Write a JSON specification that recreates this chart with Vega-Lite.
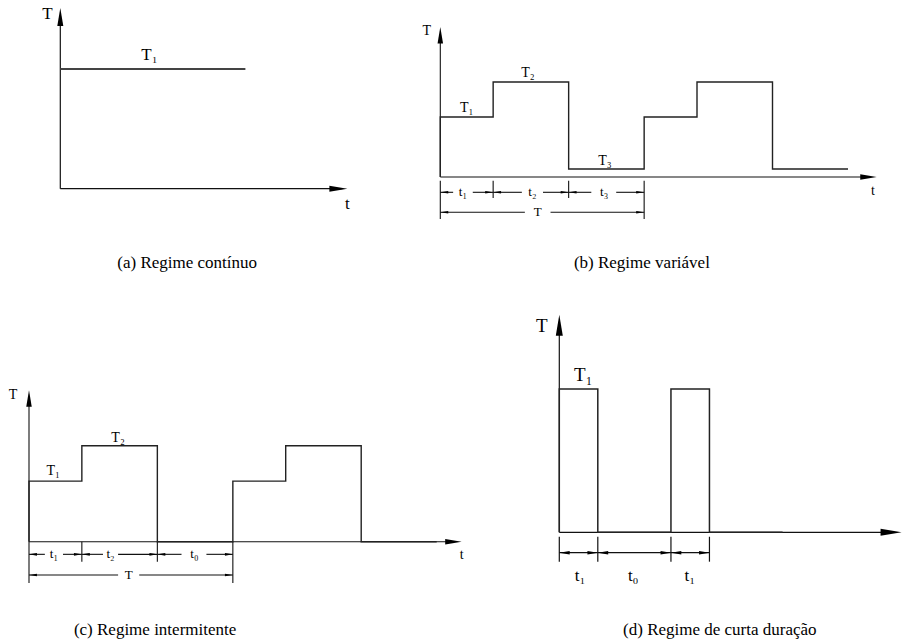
{
"$schema": "https://vega.github.io/schema/vega-lite/v6.json",
"padding": 0,
"background": "white",
"columns": 2,
"spacing": 0,
"bounds": "flush",
"align": "each",
"config": {"view": {"stroke": null}, "font": "'Liberation Serif', 'DejaVu Serif', serif", "text": {"font": "'Liberation Serif', 'DejaVu Serif', serif"}},
"datasets": {
"a_rules": [{"t":0,"T":0,"t2":9.4,"T2":0},{"t":0,"T":0,"t2":0,"T2":1.42}],
"a_sig": [{"i":0,"t":0,"T":1},{"i":1,"t":6.17,"T":1}],
"a_tips": [{"t":9.57,"T":0,"dir":"right"},{"t":0,"T":1.51,"dir":"up"}],
"a_lab": [{"t":-0.43,"T":1.459,"label":"T"},{"t":2.97,"T":1.113,"label":"T₁"},{"t":9.57,"T":-0.128,"label":"t"}],
"a_cap": [{"t":4.23,"T":-0.62,"caption":"(a) Regime contínuo"}],
"b_rules": [
{"t":0,"T":0,"t2":5.6,"T2":0},{"t":0,"T":0,"t2":0,"T2":14.3},
{"t":0,"T":-0.37,"t2":0,"T2":-4.2},{"t":0.7,"T":-0.37,"t2":0.7,"T2":-2.1},{"t":1.7,"T":-0.37,"t2":1.7,"T2":-2.1},{"t":2.7,"T":-0.37,"t2":2.7,"T2":-4.2},
{"t":0,"T":-1.53,"t2":0.17,"T2":-1.53},{"t":0.43,"T":-1.53,"t2":0.7,"T2":-1.53},{"t":0.7,"T":-1.53,"t2":1.08,"T2":-1.53},{"t":1.36,"T":-1.53,"t2":1.7,"T2":-1.53},{"t":1.7,"T":-1.53,"t2":2.0,"T2":-1.53},{"t":2.33,"T":-1.53,"t2":2.7,"T2":-1.53},
{"t":0,"T":-3.53,"t2":1.12,"T2":-3.53},{"t":1.46,"T":-3.53,"t2":2.7,"T2":-3.53}],
"b_sig": [{"i":0,"t":0,"T":0},{"i":1,"t":0,"T":6},{"i":2,"t":0.7,"T":9.5},{"i":3,"t":1.7,"T":0.8},{"i":4,"t":2.7,"T":6},{"i":5,"t":3.4,"T":9.5},{"i":6,"t":4.4,"T":0.8},{"i":7,"t":5.4,"T":0.8}],
"b_tips": [{"t":5.78,"T":0,"dir":"right"},{"t":0,"T":15,"dir":"up"}],
"b_darr": [{"t":0,"T":-1.53,"dir":"left"},{"t":0.7,"T":-1.53,"dir":"right"},{"t":0.7,"T":-1.53,"dir":"left"},{"t":1.7,"T":-1.53,"dir":"right"},{"t":1.7,"T":-1.53,"dir":"left"},{"t":2.7,"T":-1.53,"dir":"right"},{"t":0,"T":-3.53,"dir":"left"},{"t":2.7,"T":-3.53,"dir":"right"}],
"b_lab": [{"t":-0.18,"T":14.6,"label":"T"},{"t":0.35,"T":6.9,"label":"T₁"},{"t":1.16,"T":10.37,"label":"T₂"},{"t":2.18,"T":1.6,"label":"T₃"},{"t":5.73,"T":-1.4,"label":"t"}],
"b_dlab": [{"t":0.30,"T":-1.53,"label":"t₁"},{"t":1.22,"T":-1.53,"label":"t₂"},{"t":2.17,"T":-1.53,"label":"t₃"},{"t":1.29,"T":-3.53,"label":"T"}],
"b_cap": [{"t":2.67,"T":-8.6,"caption":"(b) Regime variável"}],
"c_rules": [
{"t":0,"T":0,"t2":5.55,"T2":0},{"t":0,"T":0,"t2":0,"T2":14.3},
{"t":0,"T":0,"t2":0,"T2":-4.09},{"t":0.7,"T":0,"t2":0.7,"T2":-1.98},{"t":1.7,"T":0,"t2":1.7,"T2":-1.98},{"t":2.7,"T":0,"t2":2.7,"T2":-4.09},
{"t":0,"T":-1.25,"t2":0.21,"T2":-1.25},{"t":0.45,"T":-1.25,"t2":0.7,"T2":-1.25},{"t":0.7,"T":-1.25,"t2":0.98,"T2":-1.25},{"t":1.18,"T":-1.25,"t2":1.7,"T2":-1.25},{"t":1.7,"T":-1.25,"t2":2.02,"T2":-1.25},{"t":2.35,"T":-1.25,"t2":2.7,"T2":-1.25},
{"t":0,"T":-3.3,"t2":1.18,"T2":-3.3},{"t":1.46,"T":-3.3,"t2":2.7,"T2":-3.3}],
"c_sig": [{"i":0,"t":0,"T":0},{"i":1,"t":0,"T":6},{"i":2,"t":0.7,"T":9.5},{"i":3,"t":1.7,"T":0},{"i":4,"t":2.7,"T":6},{"i":5,"t":3.4,"T":9.5},{"i":6,"t":4.4,"T":0},{"i":7,"t":5.4,"T":0}],
"c_tips": [{"t":5.73,"T":0,"dir":"right"},{"t":0,"T":15,"dir":"up"}],
"c_darr": [{"t":0,"T":-1.25,"dir":"left"},{"t":0.7,"T":-1.25,"dir":"right"},{"t":0.7,"T":-1.25,"dir":"left"},{"t":1.7,"T":-1.25,"dir":"right"},{"t":1.7,"T":-1.25,"dir":"left"},{"t":2.7,"T":-1.25,"dir":"right"},{"t":0,"T":-3.3,"dir":"left"},{"t":2.7,"T":-3.3,"dir":"right"}],
"c_lab": [{"t":-0.21,"T":14.5,"label":"T"},{"t":0.32,"T":7.0,"label":"T₁"},{"t":1.18,"T":10.27,"label":"T₂"},{"t":5.73,"T":-1.32,"label":"t"}],
"c_dlab": [{"t":0.33,"T":-1.25,"label":"t₁"},{"t":1.08,"T":-1.25,"label":"t₂"},{"t":2.19,"T":-1.25,"label":"t₀"},{"t":1.32,"T":-3.3,"label":"T"}],
"c_cap": [{"t":1.67,"T":-8.74,"caption":"(c) Regime intermitente"}],
"d_rules": [
{"t":0,"T":0,"t2":8.6,"T2":0},{"t":0,"T":0,"t2":0,"T2":1.45},
{"t":0,"T":-0.031,"t2":0,"T2":-0.205},{"t":1,"T":-0.031,"t2":1,"T2":-0.205},{"t":2.9,"T":-0.031,"t2":2.9,"T2":-0.205},{"t":3.9,"T":-0.031,"t2":3.9,"T2":-0.205},
{"t":0,"T":-0.142,"t2":1,"T2":-0.142},{"t":1,"T":-0.142,"t2":2.9,"T2":-0.142},{"t":2.9,"T":-0.142,"t2":3.9,"T2":-0.142}],
"d_sig": [{"i":0,"t":0,"T":0},{"i":1,"t":0,"T":1},{"i":2,"t":1,"T":0},{"i":3,"t":2.9,"T":1},{"i":4,"t":3.9,"T":0},{"i":5,"t":5.8,"T":0}],
"d_tips": [{"t":8.89,"T":0,"dir":"right"},{"t":0,"T":1.518,"dir":"up"}],
"d_darr": [{"t":0,"T":-0.142,"dir":"left"},{"t":1,"T":-0.142,"dir":"right"},{"t":1,"T":-0.142,"dir":"left"},{"t":2.9,"T":-0.142,"dir":"right"},{"t":2.9,"T":-0.142,"dir":"left"},{"t":3.9,"T":-0.142,"dir":"right"}],
"d_lab": [{"t":-0.457,"T":1.44,"label":"T"},{"t":0.62,"T":1.098,"label":"T₁"}],
"d_dlab": [{"t":0.54,"T":-0.305,"label":"t₁"},{"t":1.92,"T":-0.305,"label":"t₀"},{"t":3.39,"T":-0.305,"label":"t₁"}],
"d_cap": [{"t":4.17,"T":-0.682,"caption":"(d) Regime de curta duração"}]
},
"concat": [
{
"width": 410, "height": 322,
"layer": [
{"data":{"name":"a_rules"},"mark":{"type":"rule","color":"#111","strokeWidth":1.2},
 "encoding":{"x":{"field":"t","type":"quantitative","scale":{"domain":[0,10],"range":[60.3,360.3],"nice":false,"zero":false},"axis":null},"x2":{"field":"t2"},
 "y":{"field":"T","type":"quantitative","scale":{"domain":[0,1],"range":[188.7,69],"nice":false,"zero":false},"axis":null},"y2":{"field":"T2"}}},
{"data":{"name":"a_sig"},"mark":{"type":"line","color":"#444","strokeWidth":1.8},
 "encoding":{"x":{"field":"t","type":"quantitative","scale":{"domain":[0,10],"range":[60.3,360.3],"nice":false,"zero":false},"axis":null},
 "y":{"field":"T","type":"quantitative","scale":{"domain":[0,1],"range":[188.7,69],"nice":false,"zero":false},"axis":null},"order":{"field":"i","type":"quantitative"}}},
{"data":{"name":"a_tips"},"mark":{"type":"point","filled":true,"color":"black","opacity":1,"size":36,"strokeWidth":0},
 "encoding":{"x":{"field":"t","type":"quantitative","scale":{"domain":[0,10],"range":[60.3,360.3],"nice":false,"zero":false},"axis":null},
 "y":{"field":"T","type":"quantitative","scale":{"domain":[0,1],"range":[188.7,69],"nice":false,"zero":false},"axis":null},
 "shape":{"field":"dir","type":"nominal","scale":{"domain":["up","right","left"],"range":["M0,0L-1,6L1,6Z","M0,0L-6,-1L-6,1Z","M0,0L6,-1L6,1Z"]},"legend":null}}},
{"data":{"name":"a_lab"},"mark":{"type":"text","font":"'Liberation Serif', 'DejaVu Serif', serif","fontSize":17,"align":"center","baseline":"middle","color":"black"},
 "encoding":{"x":{"field":"t","type":"quantitative","scale":{"domain":[0,10],"range":[60.3,360.3],"nice":false,"zero":false},"axis":null},
 "y":{"field":"T","type":"quantitative","scale":{"domain":[0,1],"range":[188.7,69],"nice":false,"zero":false},"axis":null},"text":{"field":"label"}}},
{"data":{"name":"a_cap"},"mark":{"type":"text","font":"'Liberation Serif', 'DejaVu Serif', serif","fontSize":17,"align":"center","baseline":"middle","color":"black"},
 "encoding":{"x":{"field":"t","type":"quantitative","scale":{"domain":[0,10],"range":[60.3,360.3],"nice":false,"zero":false},"axis":null},
 "y":{"field":"T","type":"quantitative","scale":{"domain":[0,1],"range":[188.7,69],"nice":false,"zero":false},"axis":null},"text":{"field":"caption"}}}
]
},
{
"width": 492, "height": 322,
"layer": [
{"data":{"name":"b_rules"},"mark":{"type":"rule","color":"#111","strokeWidth":1.1},
 "encoding":{"x":{"field":"t","type":"quantitative","scale":{"domain":[0,1],"range":[30.3,105.8],"nice":false,"zero":false},"axis":null},"x2":{"field":"t2"},
 "y":{"field":"T","type":"quantitative","scale":{"domain":[0,10],"range":[177,77],"nice":false,"zero":false},"axis":null},"y2":{"field":"T2"}}},
{"data":{"name":"b_sig"},"mark":{"type":"line","interpolate":"step-after","color":"#222","strokeWidth":1.4},
 "encoding":{"x":{"field":"t","type":"quantitative","scale":{"domain":[0,1],"range":[30.3,105.8],"nice":false,"zero":false},"axis":null},
 "y":{"field":"T","type":"quantitative","scale":{"domain":[0,10],"range":[177,77],"nice":false,"zero":false},"axis":null},"order":{"field":"i","type":"quantitative"}}},
{"data":{"name":"b_tips"},"mark":{"type":"point","filled":true,"color":"black","opacity":1,"size":30,"strokeWidth":0},
 "encoding":{"x":{"field":"t","type":"quantitative","scale":{"domain":[0,1],"range":[30.3,105.8],"nice":false,"zero":false},"axis":null},
 "y":{"field":"T","type":"quantitative","scale":{"domain":[0,10],"range":[177,77],"nice":false,"zero":false},"axis":null},
 "shape":{"field":"dir","type":"nominal","scale":{"domain":["up","right","left"],"range":["M0,0L-1,6L1,6Z","M0,0L-6,-1L-6,1Z","M0,0L6,-1L6,1Z"]},"legend":null}}},
{"data":{"name":"b_darr"},"mark":{"type":"point","filled":true,"color":"black","opacity":1,"size":7,"strokeWidth":0},
 "encoding":{"x":{"field":"t","type":"quantitative","scale":{"domain":[0,1],"range":[30.3,105.8],"nice":false,"zero":false},"axis":null},
 "y":{"field":"T","type":"quantitative","scale":{"domain":[0,10],"range":[177,77],"nice":false,"zero":false},"axis":null},
 "shape":{"field":"dir","type":"nominal","scale":{"domain":["up","right","left"],"range":["M0,0L-1,6L1,6Z","M0,0L-6,-1L-6,1Z","M0,0L6,-1L6,1Z"]},"legend":null}}},
{"data":{"name":"b_lab"},"mark":{"type":"text","font":"'Liberation Serif', 'DejaVu Serif', serif","fontSize":14,"align":"center","baseline":"middle","color":"black"},
 "encoding":{"x":{"field":"t","type":"quantitative","scale":{"domain":[0,1],"range":[30.3,105.8],"nice":false,"zero":false},"axis":null},
 "y":{"field":"T","type":"quantitative","scale":{"domain":[0,10],"range":[177,77],"nice":false,"zero":false},"axis":null},"text":{"field":"label"}}},
{"data":{"name":"b_dlab"},"mark":{"type":"text","font":"'Liberation Serif', 'DejaVu Serif', serif","fontSize":13,"align":"center","baseline":"middle","color":"black"},
 "encoding":{"x":{"field":"t","type":"quantitative","scale":{"domain":[0,1],"range":[30.3,105.8],"nice":false,"zero":false},"axis":null},
 "y":{"field":"T","type":"quantitative","scale":{"domain":[0,10],"range":[177,77],"nice":false,"zero":false},"axis":null},"text":{"field":"label"}}},
{"data":{"name":"b_cap"},"mark":{"type":"text","font":"'Liberation Serif', 'DejaVu Serif', serif","fontSize":17,"align":"center","baseline":"middle","color":"black"},
 "encoding":{"x":{"field":"t","type":"quantitative","scale":{"domain":[0,1],"range":[30.3,105.8],"nice":false,"zero":false},"axis":null},
 "y":{"field":"T","type":"quantitative","scale":{"domain":[0,10],"range":[177,77],"nice":false,"zero":false},"axis":null},"text":{"field":"caption"}}}
]
},
{
"width": 410, "height": 322,
"layer": [
{"data":{"name":"c_rules"},"mark":{"type":"rule","color":"#111","strokeWidth":1.1},
 "encoding":{"x":{"field":"t","type":"quantitative","scale":{"domain":[0,1],"range":[29,104.5],"nice":false,"zero":false},"axis":null},"x2":{"field":"t2"},
 "y":{"field":"T","type":"quantitative","scale":{"domain":[0,10],"range":[219.7,118.7],"nice":false,"zero":false},"axis":null},"y2":{"field":"T2"}}},
{"data":{"name":"c_sig"},"mark":{"type":"line","interpolate":"step-after","color":"#222","strokeWidth":1.4},
 "encoding":{"x":{"field":"t","type":"quantitative","scale":{"domain":[0,1],"range":[29,104.5],"nice":false,"zero":false},"axis":null},
 "y":{"field":"T","type":"quantitative","scale":{"domain":[0,10],"range":[219.7,118.7],"nice":false,"zero":false},"axis":null},"order":{"field":"i","type":"quantitative"}}},
{"data":{"name":"c_tips"},"mark":{"type":"point","filled":true,"color":"black","opacity":1,"size":30,"strokeWidth":0},
 "encoding":{"x":{"field":"t","type":"quantitative","scale":{"domain":[0,1],"range":[29,104.5],"nice":false,"zero":false},"axis":null},
 "y":{"field":"T","type":"quantitative","scale":{"domain":[0,10],"range":[219.7,118.7],"nice":false,"zero":false},"axis":null},
 "shape":{"field":"dir","type":"nominal","scale":{"domain":["up","right","left"],"range":["M0,0L-1,6L1,6Z","M0,0L-6,-1L-6,1Z","M0,0L6,-1L6,1Z"]},"legend":null}}},
{"data":{"name":"c_darr"},"mark":{"type":"point","filled":true,"color":"black","opacity":1,"size":7,"strokeWidth":0},
 "encoding":{"x":{"field":"t","type":"quantitative","scale":{"domain":[0,1],"range":[29,104.5],"nice":false,"zero":false},"axis":null},
 "y":{"field":"T","type":"quantitative","scale":{"domain":[0,10],"range":[219.7,118.7],"nice":false,"zero":false},"axis":null},
 "shape":{"field":"dir","type":"nominal","scale":{"domain":["up","right","left"],"range":["M0,0L-1,6L1,6Z","M0,0L-6,-1L-6,1Z","M0,0L6,-1L6,1Z"]},"legend":null}}},
{"data":{"name":"c_lab"},"mark":{"type":"text","font":"'Liberation Serif', 'DejaVu Serif', serif","fontSize":14,"align":"center","baseline":"middle","color":"black"},
 "encoding":{"x":{"field":"t","type":"quantitative","scale":{"domain":[0,1],"range":[29,104.5],"nice":false,"zero":false},"axis":null},
 "y":{"field":"T","type":"quantitative","scale":{"domain":[0,10],"range":[219.7,118.7],"nice":false,"zero":false},"axis":null},"text":{"field":"label"}}},
{"data":{"name":"c_dlab"},"mark":{"type":"text","font":"'Liberation Serif', 'DejaVu Serif', serif","fontSize":13,"align":"center","baseline":"middle","color":"black"},
 "encoding":{"x":{"field":"t","type":"quantitative","scale":{"domain":[0,1],"range":[29,104.5],"nice":false,"zero":false},"axis":null},
 "y":{"field":"T","type":"quantitative","scale":{"domain":[0,10],"range":[219.7,118.7],"nice":false,"zero":false},"axis":null},"text":{"field":"label"}}},
{"data":{"name":"c_cap"},"mark":{"type":"text","font":"'Liberation Serif', 'DejaVu Serif', serif","fontSize":17,"align":"center","baseline":"middle","color":"black"},
 "encoding":{"x":{"field":"t","type":"quantitative","scale":{"domain":[0,1],"range":[29,104.5],"nice":false,"zero":false},"axis":null},
 "y":{"field":"T","type":"quantitative","scale":{"domain":[0,10],"range":[219.7,118.7],"nice":false,"zero":false},"axis":null},"text":{"field":"caption"}}}
]
},
{
"width": 492, "height": 322,
"layer": [
{"data":{"name":"d_rules"},"mark":{"type":"rule","color":"#111","strokeWidth":1.2},
 "encoding":{"x":{"field":"t","type":"quantitative","scale":{"domain":[0,1],"range":[149.3,187.8],"nice":false,"zero":false},"axis":null},"x2":{"field":"t2"},
 "y":{"field":"T","type":"quantitative","scale":{"domain":[0,1],"range":[210.3,67],"nice":false,"zero":false},"axis":null},"y2":{"field":"T2"}}},
{"data":{"name":"d_sig"},"mark":{"type":"line","interpolate":"step-after","color":"#222","strokeWidth":1.5},
 "encoding":{"x":{"field":"t","type":"quantitative","scale":{"domain":[0,1],"range":[149.3,187.8],"nice":false,"zero":false},"axis":null},
 "y":{"field":"T","type":"quantitative","scale":{"domain":[0,1],"range":[210.3,67],"nice":false,"zero":false},"axis":null},"order":{"field":"i","type":"quantitative"}}},
{"data":{"name":"d_tips"},"mark":{"type":"point","filled":true,"color":"black","opacity":1,"size":49,"strokeWidth":0},
 "encoding":{"x":{"field":"t","type":"quantitative","scale":{"domain":[0,1],"range":[149.3,187.8],"nice":false,"zero":false},"axis":null},
 "y":{"field":"T","type":"quantitative","scale":{"domain":[0,1],"range":[210.3,67],"nice":false,"zero":false},"axis":null},
 "shape":{"field":"dir","type":"nominal","scale":{"domain":["up","right","left"],"range":["M0,0L-1,6L1,6Z","M0,0L-6,-1L-6,1Z","M0,0L6,-1L6,1Z"]},"legend":null}}},
{"data":{"name":"d_darr"},"mark":{"type":"point","filled":true,"color":"black","opacity":1,"size":12,"strokeWidth":0},
 "encoding":{"x":{"field":"t","type":"quantitative","scale":{"domain":[0,1],"range":[149.3,187.8],"nice":false,"zero":false},"axis":null},
 "y":{"field":"T","type":"quantitative","scale":{"domain":[0,1],"range":[210.3,67],"nice":false,"zero":false},"axis":null},
 "shape":{"field":"dir","type":"nominal","scale":{"domain":["up","right","left"],"range":["M0,0L-1,6L1,6Z","M0,0L-6,-1L-6,1Z","M0,0L6,-1L6,1Z"]},"legend":null}}},
{"data":{"name":"d_lab"},"mark":{"type":"text","font":"'Liberation Serif', 'DejaVu Serif', serif","fontSize":19,"align":"center","baseline":"middle","color":"black"},
 "encoding":{"x":{"field":"t","type":"quantitative","scale":{"domain":[0,1],"range":[149.3,187.8],"nice":false,"zero":false},"axis":null},
 "y":{"field":"T","type":"quantitative","scale":{"domain":[0,1],"range":[210.3,67],"nice":false,"zero":false},"axis":null},"text":{"field":"label"}}},
{"data":{"name":"d_dlab"},"mark":{"type":"text","font":"'Liberation Serif', 'DejaVu Serif', serif","fontSize":17,"align":"center","baseline":"middle","color":"black"},
 "encoding":{"x":{"field":"t","type":"quantitative","scale":{"domain":[0,1],"range":[149.3,187.8],"nice":false,"zero":false},"axis":null},
 "y":{"field":"T","type":"quantitative","scale":{"domain":[0,1],"range":[210.3,67],"nice":false,"zero":false},"axis":null},"text":{"field":"label"}}},
{"data":{"name":"d_cap"},"mark":{"type":"text","font":"'Liberation Serif', 'DejaVu Serif', serif","fontSize":17,"align":"center","baseline":"middle","color":"black"},
 "encoding":{"x":{"field":"t","type":"quantitative","scale":{"domain":[0,1],"range":[149.3,187.8],"nice":false,"zero":false},"axis":null},
 "y":{"field":"T","type":"quantitative","scale":{"domain":[0,1],"range":[210.3,67],"nice":false,"zero":false},"axis":null},"text":{"field":"caption"}}}
]
}
]
}
